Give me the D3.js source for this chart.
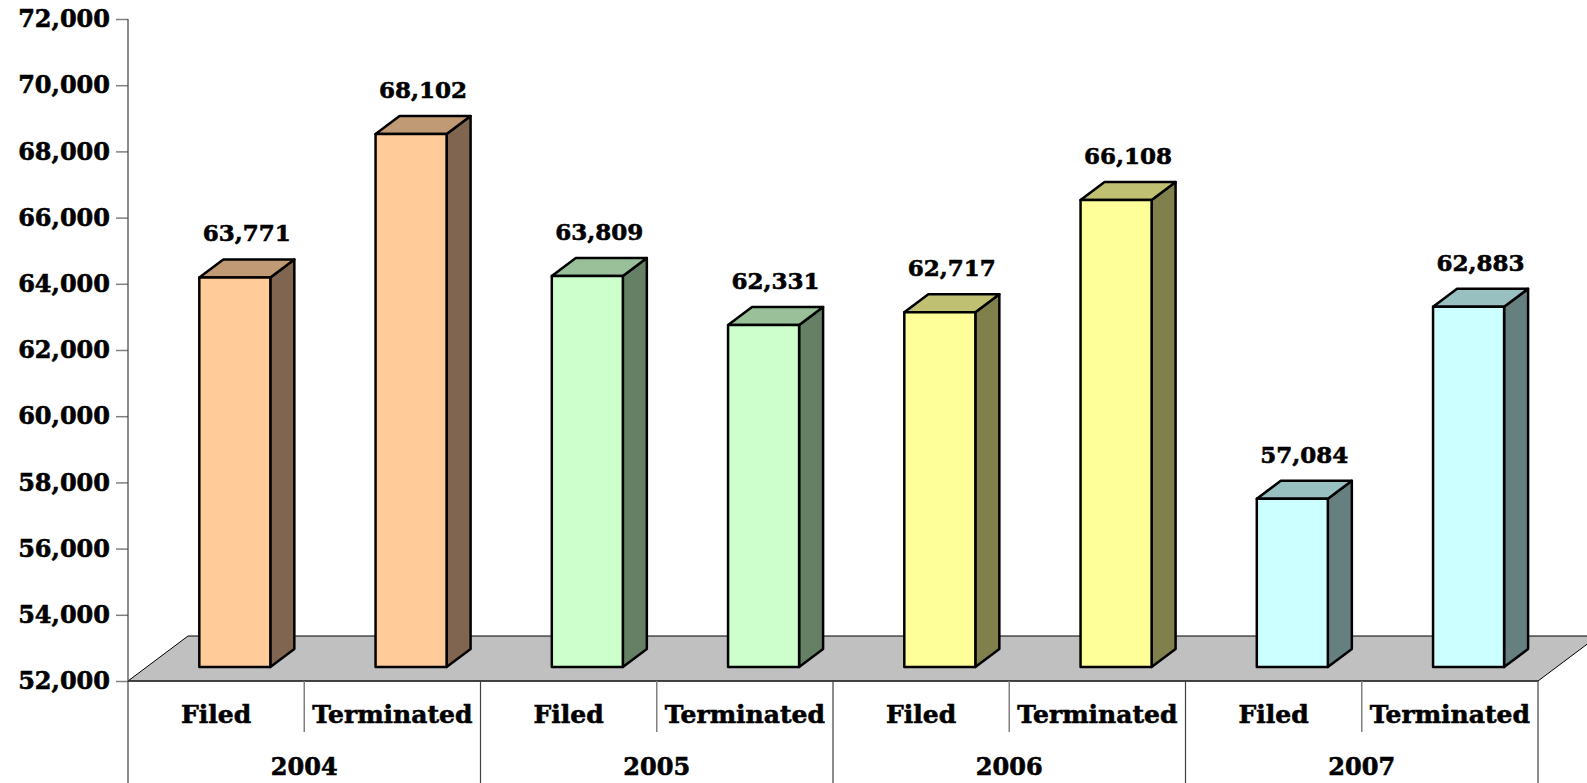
<!DOCTYPE html>
<html><head><meta charset="utf-8">
<script src="https://cdn.jsdelivr.net/npm/d3@7/dist/d3.min.js"></script>
<style>html,body{margin:0;padding:0;background:#fff;overflow:hidden}
text{stroke:#000;stroke-width:0.6px;paint-order:stroke}</style>
</head><body>
<svg id="c" width="1587" height="783"></svg>
<script>
const years = ["2004","2005","2006","2007"];
const kinds = ["Filed","Terminated"];
const values = [63771, 68102, 63809, 62331, 62717, 66108, 57084, 62883];
const valueLabels = ["63,771","68,102","63,809","62,331","62,717","66,108","57,084","62,883"];
const yTicks = [52000,54000,56000,58000,60000,62000,64000,66000,68000,70000,72000];
const frontColors = ["#FFCC99","#CCFFCC","#FFFF99","#CCFFFF"];
const sideColors = ["#806650","#668066","#80804C","#668080"];
const topColors = ["#C09A74","#99C099","#C0C073","#99C0C0"];

const svg = d3.select("#c");
const FONT = "'DejaVu Serif', serif";
const x0 = 128, x1 = 1538, yBase = 681, yTop = 19;
const y = d3.scaleLinear().domain([52000,72000]).range([yBase, yTop]);
const cats = [];
years.forEach(yr => kinds.forEach(k => cats.push(yr + "|" + k)));
const xb = d3.scaleBand().domain(cats).range([x0, x1]).padding(0);
const xg = d3.scaleBand().domain(years).range([x0, x1]).padding(0);

// floor
const fdx = 60, fdy = -45;
svg.append("polygon")
  .attr("points", [[x0,yBase],[x0+fdx,yBase+fdy],[x1+fdx,yBase+fdy],[x1,yBase]].map(p=>p.join(",")).join(" "))
  .attr("fill","#C0C0C0").attr("stroke","#000").attr("stroke-width",1);

// y axis
const yAxis = d3.axisLeft(y).tickValues(yTicks).tickSize(12).tickPadding(6)
  .tickFormat(d3.format(","));
const ga = svg.append("g").attr("transform",`translate(${x0},0)`).call(yAxis);
ga.select(".domain").remove();
ga.selectAll(".tick line").attr("stroke","#808080").attr("stroke-width",1.5);
ga.selectAll(".tick text").attr("font-family",FONT).attr("font-weight","bold")
  .attr("font-size",24).attr("fill","#000");
svg.append("line").attr("x1",x0).attr("x2",x0).attr("y1",yTop).attr("y2",783)
  .attr("stroke","#404040").attr("stroke-width",1.2);

// category axis
svg.append("line").attr("x1",x0).attr("x2",x1).attr("y1",yBase).attr("y2",yBase)
  .attr("stroke","#333").attr("stroke-width",1.5);
cats.forEach((c,i) => {
  if (i % 2 === 1) {
    const xx = xb(c);
    svg.append("line").attr("x1",xx).attr("x2",xx).attr("y1",yBase).attr("y2",732)
      .attr("stroke","#808080").attr("stroke-width",1.5);
  }
  svg.append("text").attr("x", xb(c) + xb.bandwidth()/2).attr("y", 723)
    .attr("text-anchor","middle").attr("font-family",FONT).attr("font-weight","bold")
    .attr("font-size",25).text(c.split("|")[1]);
});
years.forEach((yr,i) => {
  const xx = xg(yr) + xg.bandwidth();
  svg.append("line").attr("x1",xx).attr("x2",xx).attr("y1",yBase).attr("y2",783)
    .attr("stroke","#404040").attr("stroke-width",1.2);
  svg.append("text").attr("x", xg(yr) + xg.bandwidth()/2).attr("y", 775)
    .attr("text-anchor","middle").attr("font-family",FONT).attr("font-weight","bold")
    .attr("font-size",24).text(yr);
});

// bars
const offX = 18.7, offY = -14, dX = 24, dY = -18;
const bw = xb.bandwidth() * 0.403;
cats.forEach((c,i) => {
  const g = Math.floor(i/2);
  const cx = xb(c) + xb.bandwidth()/2 + offX;
  const L = cx - bw/2, R = cx + bw/2;
  const T = y(values[i]) + offY, B = y(52000) + offY;
  const gb = svg.append("g").attr("stroke","#000").attr("stroke-width",2.5).attr("stroke-linejoin","round");
  gb.append("polygon").attr("points",[[R,T],[R+dX,T+dY],[R+dX,B+dY],[R,B]].map(p=>p.join(",")).join(" "))
    .attr("fill",sideColors[g]);
  gb.append("polygon").attr("points",[[L,T],[L+dX,T+dY],[R+dX,T+dY],[R,T]].map(p=>p.join(",")).join(" "))
    .attr("fill",topColors[g]);
  gb.append("rect").attr("x",L).attr("y",T).attr("width",bw).attr("height",B-T)
    .attr("fill",frontColors[g]);
  svg.append("text").attr("x", cx + dX/2).attr("y", T - 36)
    .attr("text-anchor","middle").attr("font-family",FONT).attr("font-weight","bold")
    .attr("font-size",23).text(valueLabels[i]);
});
</script>
</body></html>
